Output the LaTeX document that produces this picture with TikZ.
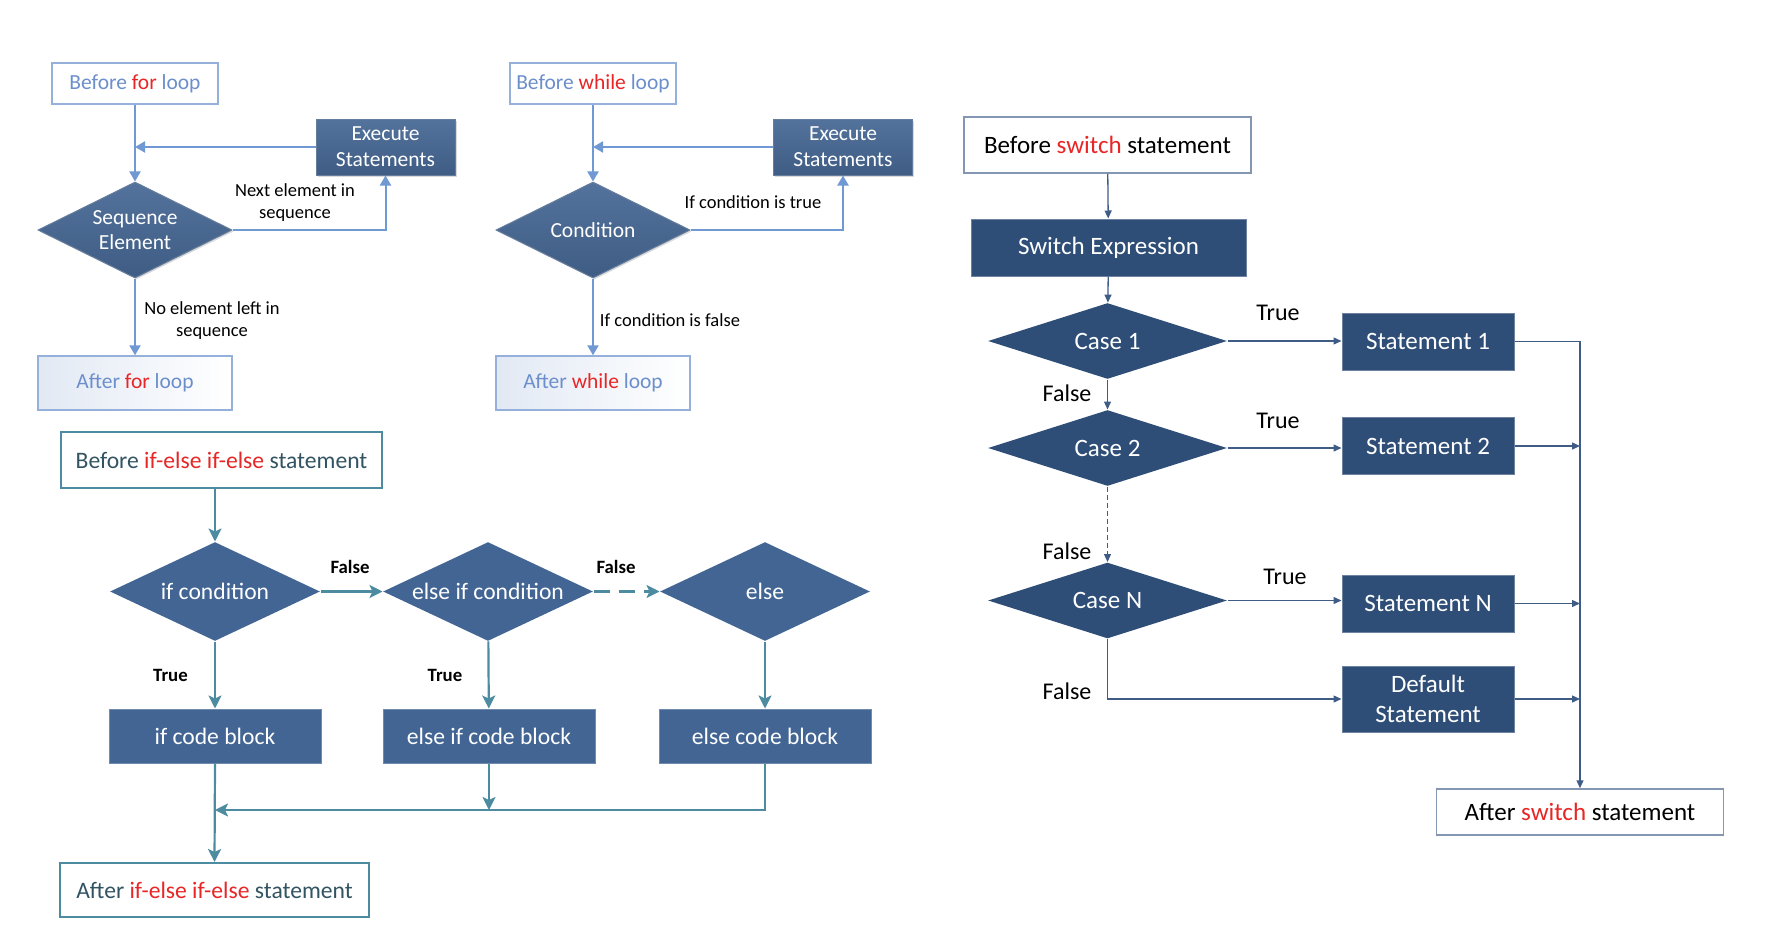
\documentclass[tikz,border=0pt]{standalone}
\usepackage{fontspec}
\setmainfont{Carlito}
\usetikzlibrary{shapes.geometric,arrows.meta,shadows}

\definecolor{kwred}{RGB}{232,38,38}
\definecolor{loopline}{RGB}{112,153,212}
\definecolor{loopedge}{RGB}{150,176,220}
\definecolor{looptext}{RGB}{108,143,204}
\definecolor{loophi}{RGB}{84,115,156}
\definecolor{looplo}{RGB}{62,92,132}
\definecolor{loopfade}{RGB}{226,233,244}
\definecolor{swnavy}{RGB}{46,78,120}
\definecolor{swline}{RGB}{62,92,134}
\definecolor{swedge}{RGB}{132,151,178}
\definecolor{ifblue}{RGB}{66,101,148}
\definecolor{ifline}{RGB}{76,139,160}
\definecolor{iftext}{RGB}{50,84,98}

\newcommand\kw[1]{\textcolor{kwred}{#1}}

\tikzset{
  loopbox/.style={draw=loopedge,line width=1.4pt,fill=white,text=looptext,
    minimum width=166pt,minimum height=41pt,font=\fontsize{21.5}{26}\selectfont},
  loopend/.style={loopbox,left color=loopfade,right color=white,
    minimum width=194pt,minimum height=54pt},
  loopexec/.style={top color=loophi,bottom color=looplo,draw=looplo!80!white,
    line width=1pt,text=white,align=center,minimum width=139pt,minimum height=56pt,
    font=\fontsize{21.5}{26}\selectfont,
    drop shadow={shadow xshift=1.5pt,shadow yshift=-1.5pt,opacity=.3}},
  loopdia/.style={loopexec,shape=diamond,aspect=2,inner sep=0pt,
    minimum width=194pt,minimum height=96pt,font=\fontsize{21.5}{25}\selectfont},
  looplbl/.style={align=center,font=\fontsize{18.5}{22}\selectfont},
  loopln/.style={draw=loopline,line width=2pt,-{Triangle[length=10pt,width=11pt]}},
  swbox/.style={draw=swedge,line width=1.5pt,fill=white,
    minimum width=287pt,minimum height=56pt,font=\fontsize{25}{30}\selectfont},
  swblk/.style={fill=swnavy,draw=swnavy!70!white,line width=1pt,text=white,align=center,
    minimum width=172pt,minimum height=57pt,font=\fontsize{25}{30}\selectfont},
  swdia/.style={swblk,shape=diamond,aspect=3,inner sep=0pt,draw=none,
    minimum width=239pt,minimum height=76pt},
  swlbl/.style={font=\fontsize{24}{28}\selectfont},
  swln/.style={draw=swline,line width=1.3pt,-{Triangle[length=8pt,width=7pt]}},
  ifbox/.style={draw=ifline,line width=2pt,fill=white,text=iftext,
    minimum width=321pt,minimum height=56pt,font=\fontsize{23.6}{28}\selectfont},
  ifblk/.style={fill=ifblue,draw=ifblue!75!white,line width=1pt,text=white,
    minimum width=212pt,minimum height=54pt,font=\fontsize{23.6}{28}\selectfont},
  ifdia/.style={ifblk,shape=diamond,aspect=2.1,inner sep=0pt,draw=none,
    minimum width=210pt,minimum height=99pt},
  iflbl/.style={font=\fontsize{18.8}{22}\selectfont\bfseries},
  ifln/.style={draw=ifline,line width=2.2pt,-{Stealth[length=13pt,width=13pt,inset=3pt]}}
}

\begin{document}
\begin{tikzpicture}[x=1pt,y=-1pt]
\useasboundingbox (0,0) rectangle (1772,942);

\node[loopbox] (bfor) at (135,83.5) {Before \kw{for} loop};
\node[loopexec] (exfor) at (385.5,147) {Execute\\Statements};
\node[loopdia] (seq) at (135,230) {Sequence\\Element};
\node[loopend] (afor) at (135,383) {After \kw{for} loop};
\node[looplbl] (lnext) at (295,202.5) {Next element in\\sequence};
\node[looplbl] (lnone) at (212,320.5) {No element left in\\sequence};
\draw[loopln] (bfor) -- (seq);
\draw[loopln] (exfor.west) -- (exfor.west -| bfor.south);
\draw[loopln] (seq.east) -| (exfor.south);
\draw[loopln] (seq) -- (afor);

\node[loopbox] (bwhile) at (593,83.5) {Before \kw{while} loop};
\node[loopexec] (exwhile) at (843,147) {Execute\\Statements};
\node[loopdia] (cond) at (593,230) {Condition};
\node[loopend] (awhile) at (593,383) {After \kw{while} loop};
\node[looplbl] (ltrue) at (753,202) {If condition is true};
\node[looplbl] (lfalse) at (670,320) {If condition is false};
\draw[loopln] (bwhile) -- (cond);
\draw[loopln] (exwhile.west) -- (exwhile.west -| bwhile.south);
\draw[loopln] (cond.east) -| (exwhile.south);
\draw[loopln] (cond) -- (awhile);

\node[swbox] (bsw) at (1107.5,145) {Before \kw{switch} statement};
\node[swblk,minimum width=275pt] (swx) at (1108.5,247.5) {Switch Expression};
\node[swdia] (c1) at (1107.5,341) {Case 1};
\node[swdia] (c2) at (1107.5,448) {Case 2};
\node[swdia] (cn) at (1107.5,600.5) {Case N};
\node[swblk] (s1) at (1428,341.5) {Statement 1};
\node[swblk] (s2) at (1428,446) {Statement 2};
\node[swblk] (sn) at (1428,603.5) {Statement N};
\node[swblk,minimum height=66pt] (sd) at (1428,699) {Default\\Statement};
\node[swbox,minimum height=46pt] (asw) at (1580,812) {After \kw{switch} statement};
\node[swlbl] (t1) at (1278,313) {True};
\node[swlbl] (t2) at (1278,421) {True};
\node[swlbl] (tn) at (1285,577) {True};
\node[swlbl] (f1) at (1067,393) {False};
\node[swlbl] (f2) at (1067,551) {False};
\node[swlbl] (fn) at (1067,691) {False};
\draw[swln] (bsw) -- (swx);
\draw[swln] (swx) -- (c1);
\draw[swln] (c1) -- (c2);
\draw[swln,dash pattern=on 5pt off 3pt] (c2) -- (cn);
\draw[swln] (c1.east) -- (c1.east -| s1.west);
\draw[swln] (c2.east) -- (c2.east -| s2.west);
\draw[swln] (cn.east) -- (cn.east -| sn.west);
\draw[swln] (cn.south) |- (sd.west);
\draw[swln] (s1.east) -| (asw.north);
\draw[swln] (s2.east) -- (s2.east -| asw.north);
\draw[swln] (sn.east) -- (sn.east -| asw.north);
\draw[swln] (sd.east) -- (sd.east -| asw.north);

\node[ifbox] (bif) at (221.5,460) {Before \kw{if-else if-else} statement};
\node[ifdia] (ifc) at (215,591.5) {if condition};
\node[ifdia] (eic) at (488,591.5) {else if condition};
\node[ifdia] (elc) at (765,591.5) {else};
\node[ifblk] (ifb) at (215,736) {if code block};
\node[ifblk] (eib) at (489,736) {else if code block};
\node[ifblk] (elb) at (765,736) {else code block};
\node[ifbox,minimum width=309pt,minimum height=54pt] (aif) at (214.5,890) {After \kw{if-else if-else} statement};
\node[iflbl] (if1) at (350,567) {False};
\node[iflbl] (if2) at (616,567) {False};
\node[iflbl] (it1) at (170.5,675) {True};
\node[iflbl] (it2) at (445,675) {True};
\coordinate (merge) at (215,810);
\draw[ifln] (bif.south -| ifc.north) -- (ifc.north);
\draw[ifln] (ifc) -- (eic);
\draw[ifln,dash pattern=on 16pt off 9pt] (eic) -- (elc);
\draw[ifln] (ifc) -- (ifb);
\draw[ifln] (eic) -- (eib);
\draw[ifln] (elc) -- (elb);
\draw[ifln] (elb.south) |- (merge);
\draw[ifln] (eib.south) -- (eib.south |- merge);
\draw[ifln] (ifb.south) -- (aif.north);
\end{tikzpicture}
\end{document}
